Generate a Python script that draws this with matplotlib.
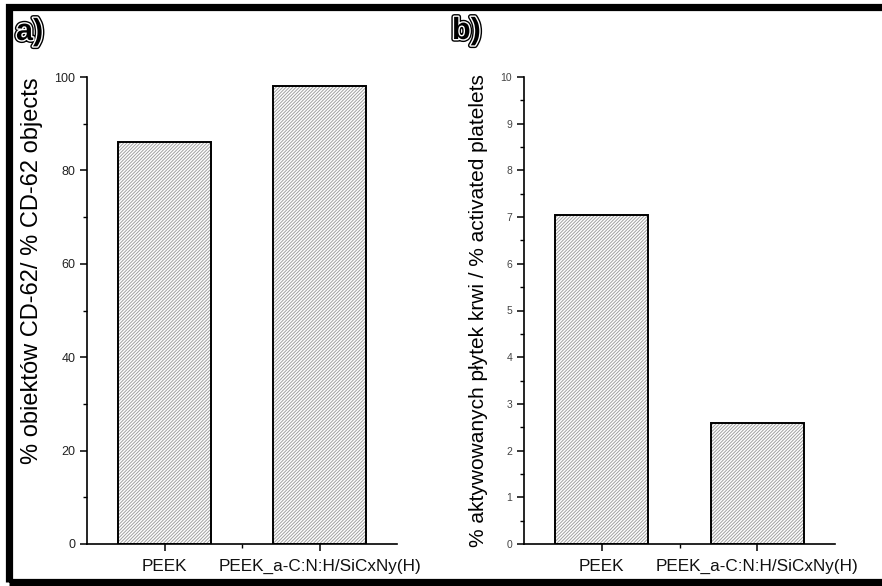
import matplotlib
matplotlib.use("Agg")
import matplotlib.pyplot as plt
import matplotlib.patheffects as pe
from matplotlib.patches import Rectangle
from matplotlib.ticker import MultipleLocator

plt.rcParams["font.family"] = ["Liberation Sans", "DejaVu Sans"]
plt.rcParams["hatch.linewidth"] = 0.7

# data
samples = ["PEEK", "PEEK_a-C:N:H/SiCxNy(H)"]
cd62_objects = [86.0, 98.0]
activated_platelets = [7.05, 2.6]

label_a = "% obiektów CD-62/ % CD-62 objects"
label_b = "% aktywowanych płytek krwi / % activated platelets"

W, H = 882, 586
fig = plt.figure(figsize=(W / 100, H / 100), dpi=100)


def axes_px(x0, x1, y_top, y_bot):
    return fig.add_axes([x0 / W, 1 - y_bot / H, (x1 - x0) / W, (y_bot - y_top) / H])


def hatched_bars(ax, values):
    x = range(len(values))
    # gray hatch first, then black outline on top
    ax.bar(x, values, width=0.6, color="white", edgecolor="#a0a0a0",
           linewidth=0, hatch="//////////")
    ax.bar(x, values, width=0.6, fill=False, edgecolor="black", linewidth=1.4)


def style(ax, ymax, major, minor, tick_size, tick_color):
    ax.set_xlim(-0.5, 1.5)
    ax.set_ylim(0, ymax)
    for s in ["top", "right"]:
        ax.spines[s].set_visible(False)
    for s in ["left", "bottom"]:
        ax.spines[s].set_linewidth(1.2)
    ax.yaxis.set_major_locator(MultipleLocator(major))
    ax.yaxis.set_minor_locator(MultipleLocator(minor))
    ax.set_xticks(range(len(samples)))
    ax.set_xticks([0.5], minor=True)
    ax.set_xticklabels(samples, fontsize=12.3, color="#111111")
    ax.tick_params(axis="both", which="major", length=5, width=1.1)
    ax.tick_params(axis="both", which="minor", length=3, width=1.0)
    ax.tick_params(axis="y", labelsize=tick_size, labelcolor=tick_color)
    ax.tick_params(axis="x", pad=6)


# panel a
ax1 = axes_px(87, 397, 77, 544)
hatched_bars(ax1, cd62_objects)
style(ax1, 100, 20, 10, 9, "#222222")
ax1.set_ylabel(label_a, fontsize=17)
ax1.yaxis.set_label_coords(-0.142, 0.585)

# panel b
ax2 = axes_px(524, 835, 77, 544)
hatched_bars(ax2, activated_platelets)
style(ax2, 10, 1, 0.5, 7.5, "#444444")
ax2.set_ylabel(label_b, fontsize=15, labelpad=9)

# panel letters
outline = [pe.Stroke(linewidth=4, foreground="black"),
           pe.Stroke(linewidth=2, foreground="white"), pe.Normal()]
fig.text(16 / W, 1 - 17 / H, "a)", fontsize=22, fontweight="bold", va="top",
         color="black", path_effects=outline)
fig.text(452 / W, 1 - 16 / H, "b)", fontsize=22, fontweight="bold", va="top",
         color="black", path_effects=outline)

# black frame around the figure (right edge cut off)
fig.add_artist(Rectangle((8.5 / W, 1 - 581.5 / H), 1.02, (581.5 - 6.5) / H,
                         transform=fig.transFigure, fill=False,
                         edgecolor="black", linewidth=5.2, clip_on=False))

fig.savefig("out.png", dpi=100)
